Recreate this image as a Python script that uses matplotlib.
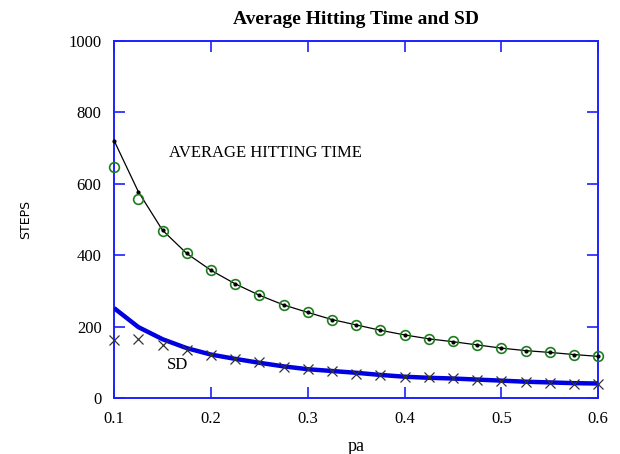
import numpy as np
import matplotlib.pyplot as plt

# probability values on the x axis
pa = [0.1, 0.125, 0.15, 0.175, 0.2, 0.225, 0.25, 0.275, 0.3, 0.325, 0.35,
      0.375, 0.4, 0.425, 0.45, 0.475, 0.5, 0.525, 0.55, 0.575, 0.6]

# theoretical average hitting time (thin black line)
avg_theory = [721, 578, 470, 405, 358, 320, 288, 261, 240, 220, 205,
              190, 177, 166, 158, 149, 140, 133, 128, 122, 117]
# simulated average hitting time (green circles)
avg_sim = [648, 557, 468, 407, 358, 319, 288, 261, 240, 220, 205,
           190, 177, 166, 159, 148, 140, 133, 129, 122, 117]
# theoretical SD (thick blue line)
sd_theory = [252, 199, 165, 140, 122, 110, 99, 89, 81, 76, 71,
             65, 60, 57, 55, 52, 49, 46, 44, 42, 41]
# simulated SD (crosses)
sd_sim = [162, 165, 148, 135, 120, 109, 101, 87, 83, 75, 69,
          64, 59, 58, 57, 50, 48, 44, 43, 40, 39]

serif = "Liberation Serif"
blue = "#1f1fff"

fig = plt.figure(figsize=(6.2, 4.54), dpi=100)
ax = fig.add_axes([0.184, 0.123, 0.781, 0.787])

ax.plot(pa, avg_theory, color="black", lw=0.9, marker="o", ms=2,
        zorder=3, clip_on=False)
ax.plot(pa, avg_sim, ls="none", marker="o", ms=7, mfc="none",
        mec="#1e7d1e", mew=1.2, zorder=4, clip_on=False)
ax.plot(pa, sd_theory, color="#0000e0", lw=3.2, zorder=3,
        solid_capstyle="butt")
ax.plot(pa, sd_sim, ls="none", marker="x", ms=6.5, color="#333333",
        mew=0.9, zorder=4, clip_on=False)

ax.text(0.157, 686, "AVERAGE HITTING TIME", fontfamily=serif, fontsize=12,
        va="center", ha="left")
ax.text(0.154, 92, "SD", fontfamily=serif, fontsize=12, va="center",
        ha="left")

ax.set_xlim(0.1, 0.6)
ax.set_ylim(0, 1000)
ax.set_xticks([0.1, 0.2, 0.3, 0.4, 0.5, 0.6])
ax.set_yticks([0, 200, 400, 600, 800, 1000])

for s in ax.spines.values():
    s.set_color(blue)
    s.set_linewidth(1.4)
ax.tick_params(direction="in", length=8, width=1.2, color=blue,
               top=True, right=True, pad=9, labelsize=12)
for lab in ax.get_xticklabels() + ax.get_yticklabels():
    lab.set_fontfamily(serif)

ax.set_title("Average Hitting Time and SD", fontfamily=serif,
             fontweight="bold", fontsize=14, pad=12)
ax.set_xlabel("pa", fontfamily=serif, fontsize=13, labelpad=8)
ax.set_ylabel("STEPS", fontfamily="DejaVu Sans", fontsize=9, labelpad=26)

fig.savefig("out.png", dpi=100)
